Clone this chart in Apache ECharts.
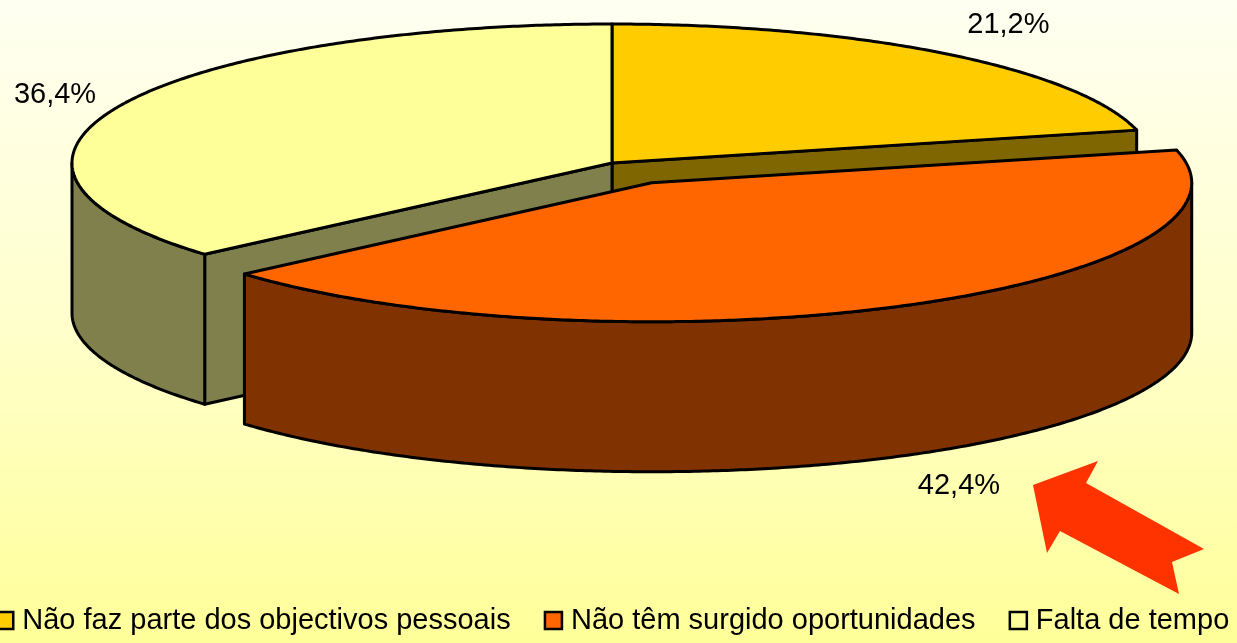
<!DOCTYPE html>
<html>
<head>
<meta charset="utf-8">
<script src="https://cdn.jsdelivr.net/npm/echarts@6/dist/echarts.min.js"></script>
<style>
html,body{margin:0;padding:0;}
#chart{width:1237px;height:643px;}
</style>
</head>
<body>
<div id="chart"></div>
<script>
// ---- data ----
const categories = ['Não faz parte dos objectivos pessoais', 'Não têm surgido oportunidades', 'Falta de tempo'];
const values = [21.2, 42.4, 36.4];
const valueLabels = ['21,2%', '42,4%', '36,4%'];
const topColors = ['#FFCC00', '#FF6600', '#FFFF99'];
const explode = [0, 0.16, 0];

// ---- layout ----
const CX = 612, CY = 163, RX = 540, RY = 139, H = 150;
const FONT = '"Liberation Sans", Arial, sans-serif';
const total = values.reduce((a, b) => a + b, 0);

function half(hex) {
  const n = parseInt(hex.slice(1), 16);
  const r = (n >> 16) & 255, g = (n >> 8) & 255, b = n & 255;
  const f = v => Math.round(v / 2).toString(16).padStart(2, '0');
  return '#' + f(r) + f(g) + f(b);
}
function sliceAngles(i) {
  let s = 0;
  for (let k = 0; k < i; k++) s += values[k];
  const a0 = s / total * Math.PI * 2;
  const a1 = (s + values[i]) / total * Math.PI * 2;
  return [a0, a1];
}
function sliceOffset(i) {
  const [a0, a1] = sliceAngles(i);
  const m = (a0 + a1) / 2;
  return [explode[i] * RX * Math.sin(m), -explode[i] * RY * Math.cos(m)];
}
function depth(i) {
  const [a0, a1] = sliceAngles(i);
  const m = (a0 + a1) / 2;
  return -Math.cos(m) + explode[i];
}

const stroke = {stroke: '#000', lineWidth: 3, lineJoin: 'round'};

function makeRender(i) {
  return function (params, api) {
    const [a0, a1] = sliceAngles(i);
    const [ox, oy] = sliceOffset(i);
    const pt = (t, dz) => [CX + ox + RX * Math.sin(t), CY + oy - RY * Math.cos(t) + (dz || 0)];
    const c = [CX + ox, CY + oy];
    const top = topColors[i], side = half(top);
    const children = [];
    const step = Math.PI / 360;
    // radial faces
    if (Math.sin(a0) < -1e-6) {
      const p = pt(a0);
      children.push({type: 'polygon', shape: {points: [c, p, [p[0], p[1] + H], [c[0], c[1] + H]]},
        style: Object.assign({fill: side}, stroke)});
    }
    if (Math.sin(a1) > 1e-6) {
      const p = pt(a1);
      children.push({type: 'polygon', shape: {points: [c, p, [p[0], p[1] + H], [c[0], c[1] + H]]},
        style: Object.assign({fill: side}, stroke)});
    }
    // outer wall (front half only)
    const s = Math.max(a0, Math.PI / 2), e = Math.min(a1, Math.PI * 1.5);
    if (e > s) {
      const up = [], down = [];
      for (let t = s; t < e; t += step) { up.push(pt(t)); down.push(pt(t, H)); }
      up.push(pt(e)); down.push(pt(e, H));
      children.push({type: 'polygon', shape: {points: up.concat(down.reverse())},
        style: Object.assign({fill: side}, stroke)});
    }
    // top face
    const tp = [c];
    for (let t = a0; t < a1; t += step) tp.push(pt(t));
    tp.push(pt(a1));
    children.push({type: 'polygon', shape: {points: tp}, style: Object.assign({fill: top}, stroke)});
    // label
    const m = (a0 + a1) / 2;
    const base = pt(m, -Math.cos(m) > 0 ? H : 0);
    const nx = RX * Math.sin(m), ny = -RY * Math.cos(m);
    const len = Math.hypot(nx, ny);
    const up = Math.max(0, Math.cos(m));
    children.push({type: 'text',
      x: base[0] + nx / len * 66,
      y: base[1] + ny / len * 66 - 14 * up * up,
      style: {text: valueLabels[i], fontSize: 29, fontFamily: FONT, fill: '#000', align: 'center', verticalAlign: 'middle'}});
    return {type: 'group', children: children};
  };
}

const order = categories.map((_, i) => i).sort((a, b) => depth(a) - depth(b));
const series = categories.map((name, i) => ({
  type: 'custom',
  name: name,
  coordinateSystem: 'none',
  z: 2 + order.indexOf(i),
  itemStyle: {color: topColors[i], borderColor: '#000', borderWidth: 2},
  renderItem: makeRender(i),
  data: [values[i]]
}));

const chart = echarts.init(document.getElementById('chart'), null, {renderer: 'canvas'});
chart.setOption({
  animation: false,
  backgroundColor: {type: 'linear', x: 0, y: 0, x2: 0, y2: 1,
    colorStops: [{offset: 0, color: '#FFFFF2'}, {offset: 0.5, color: '#FFFFCC'}, {offset: 1, color: '#FFFF99'}]},
  legend: {
    data: categories,
    left: -5, top: 606, padding: 0,
    icon: 'rect', itemWidth: 17, itemHeight: 17, itemGap: 33,
    itemStyle: {borderColor: '#000', borderWidth: 2.5},
    textStyle: {fontSize: 29, fontFamily: FONT, color: '#000', padding: [0, 0, 0, 4]}
  },
  graphic: [{
    type: 'polygon', z: 10,
    shape: {points: [[1033, 485], [1098, 461], [1086, 483], [1204, 549], [1172, 562], [1179, 594], [1060, 531], [1047, 553]]},
    style: {fill: '#FF3300'}
  }],
  series: series
});
</script>
</body>
</html>
